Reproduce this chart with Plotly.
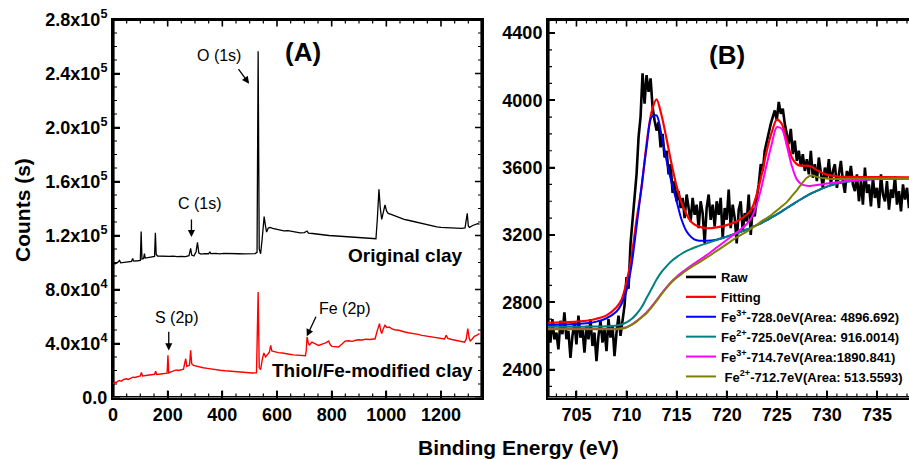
import numpy as np
import plotly.graph_objects as go

# ---------------- survey spectra (binding energy eV, counts in units of 1000) ----------------
orig_be = [0, 8, 16, 24, 28, 40, 55, 68, 72, 76, 90, 100, 103, 106, 112, 115, 118, 130, 145, 152,
           155, 158, 163, 175, 190, 205, 220, 235, 250, 265, 278, 284, 288, 296, 304, 309, 314, 322,
           335, 350, 354, 358, 375, 390, 405, 420, 440, 460, 480, 500, 520, 527, 531, 535, 540, 546,
           553, 558, 562, 568, 575, 584, 595, 610, 625, 640, 655, 670, 685, 700, 710, 715, 730, 745,
           760, 775, 790, 805, 820, 835, 850, 865, 880, 900, 915, 930, 945, 962, 967, 973, 978, 983,
           990, 995, 1001, 1007, 1020, 1035, 1050, 1065, 1080, 1095, 1110, 1125, 1140, 1155, 1170,
           1185, 1200, 1215, 1230, 1245, 1260, 1275, 1288, 1292, 1296, 1300, 1304, 1316, 1325, 1334, 1341]
orig_kcounts = [99.5, 99.0, 99.8, 101.5, 99.8, 100.2, 100.6, 100.9, 103.0, 101.0, 101.3, 101.6, 123.0,
                102.5, 103.0, 106.5, 103.3, 103.6, 103.8, 104.5, 122.0, 106.0, 104.8, 104.6, 104.9,
                104.5, 104.7, 104.3, 104.6, 104.4, 105.0, 110.4, 105.5, 104.8, 108.0, 115.0, 107.0,
                106.2, 106.6, 106.5, 108.0, 106.6, 106.8, 106.4, 106.7, 106.5, 106.3, 106.5, 106.4,
                106.3, 106.6, 107.5, 256.5, 110.0, 106.5, 118.0, 134.0, 127.0, 122.5, 125.5, 126.0,
                125.3, 124.8, 124.0, 123.4, 123.6, 122.8, 122.5, 122.0, 122.2, 123.3, 121.8, 121.5,
                121.0, 120.8, 120.5, 120.0, 119.8, 119.6, 119.2, 119.0, 119.3, 118.8, 118.7, 118.4,
                118.2, 118.0, 117.6, 132.0, 154.3, 140.0, 132.0, 138.0, 142.6, 138.0, 136.4, 135.5,
                134.2, 133.5, 132.0, 131.3, 130.6, 130.0, 128.8, 128.2, 127.4, 127.0, 126.4, 126.0,
                125.8, 125.5, 125.6, 125.2, 125.3, 125.6, 130.0, 136.4, 127.0, 126.0, 127.4, 128.0,
                128.7, 128.5]

thiol_be = [0, 6, 12, 18, 24, 30, 38, 48, 56, 65, 73, 80, 90, 100, 104, 108, 120, 134, 145, 152, 156,
            160, 175, 190, 198, 201, 204, 212, 222, 231, 240, 250, 258, 262, 266, 270, 280, 284, 288,
            294, 305, 316, 330, 345, 360, 377, 392, 410, 425, 437, 455, 470, 490, 510, 525, 531, 535,
            540, 546, 552, 558, 565, 572, 577, 581, 590, 605, 620, 631, 645, 660, 675, 690, 704, 707,
            710, 714, 718, 723, 728, 735, 745, 752, 765, 778, 789, 795, 801, 812, 825, 838, 849, 862,
            875, 888, 898, 912, 925, 940, 959, 966, 975, 979, 983, 989, 995, 1002, 1010, 1019, 1030,
            1045, 1055, 1068, 1080, 1095, 1105, 1116, 1130, 1145, 1155, 1165, 1180, 1195, 1205, 1213,
            1219, 1225, 1240, 1255, 1270, 1286, 1292, 1298, 1303, 1307, 1315, 1322, 1330, 1341]
thiol_kcounts = [10.2, 11.5, 11.0, 12.2, 12.6, 12.0, 13.2, 13.9, 13.4, 14.6, 15.1, 14.8, 15.4, 15.9,
                 18.5, 16.0, 16.3, 16.5, 16.8, 17.2, 19.5, 17.0, 17.4, 17.8, 18.0, 31.2, 18.2, 19.0,
                 19.6, 20.4, 20.0, 20.3, 21.0, 25.0, 28.7, 23.0, 24.0, 34.9, 25.0, 23.8, 23.2, 22.6,
                 22.0, 21.6, 21.0, 20.7, 20.2, 19.8, 19.5, 19.3, 18.9, 18.6, 18.4, 18.2, 18.3, 78.2,
                 22.0, 20.6, 28.0, 33.0, 30.0, 32.0, 33.5, 38.6, 34.5, 34.0, 33.2, 33.0, 32.4, 32.0,
                 31.6, 31.5, 31.2, 31.0, 35.0, 44.8, 41.0, 38.6, 40.0, 41.0, 40.2, 39.0, 38.6, 39.6,
                 40.4, 41.8, 39.0, 37.9, 37.6, 37.4, 39.6, 41.8, 42.0, 41.6, 42.4, 42.8, 42.6, 43.2,
                 43.0, 43.5, 49.0, 54.7, 50.0, 47.3, 51.0, 53.5, 51.8, 52.2, 51.0, 50.2, 49.8, 49.0,
                 48.5, 48.0, 47.6, 47.0, 46.8, 46.0, 45.6, 45.3, 44.8, 44.4, 44.0, 43.6, 43.3, 46.0,
                 43.8, 43.0, 42.2, 41.6, 41.0, 43.0, 51.0, 44.0, 41.8, 43.5, 45.3, 46.0, 47.3]

survey_tickvals = [0, 40000, 80000, 120000, 160000, 200000, 240000, 280000]
survey_ticktext = ["0.0", "4.0x10<sup>4</sup>", "8.0x10<sup>4</sup>", "1.2x10<sup>5</sup>",
                   "1.6x10<sup>5</sup>", "2.0x10<sup>5</sup>", "2.4x10<sup>5</sup>", "2.8x10<sup>5</sup>"]

# ---------------- Fe 2p high-resolution region ----------------
# raw counts sampled every 0.2 eV starting at 702.2 eV
fe_start, fe_step = 702.2, 0.2
fe_raw = [2650, 2560, 2700, 2580, 2620, 2520, 2690, 2610, 2740, 2580, 2630, 2470, 2600, 2680, 2550,
          2720, 2590, 2640, 2500, 2660, 2580, 2700, 2540, 2620, 2450, 2600, 2690, 2560, 2640, 2510,
          2700, 2590, 2660, 2480, 2620, 2720, 2600,
          2680, 2780, 2950, 2880, 3150, 3280, 3420, 3560,
          3780, 3900, 4160, 3980, 4150, 4050, 4130,
          3960, 3880, 3820, 3870, 3720, 3800, 3660, 3700,
          3560, 3620, 3450, 3520, 3400, 3460, 3360, 3420, 3300, 3440,
          3350, 3280, 3420, 3320, 3380, 3240, 3400, 3330, 3150, 3360, 3440, 3290, 3380, 3250, 3400,
          3320, 3420, 3180, 3360, 3290, 3470, 3240, 3380, 3300, 3150, 3350, 3400, 3220, 3330, 3280,
          3440, 3200, 3360, 3310, 3420,
          3500, 3620, 3580, 3700, 3760, 3820, 3860,
          3900, 3940, 3880, 3990, 3920, 3950, 3860,
          3800, 3740, 3830, 3680, 3760, 3640, 3700, 3610, 3680, 3580, 3650,
          3560, 3700, 3540, 3620, 3520, 3660, 3560, 3480, 3600, 3540, 3650, 3500, 3580, 3620, 3480,
          3560, 3640, 3520, 3450, 3580, 3530, 3610, 3500,
          3460, 3560, 3400, 3520, 3380, 3600, 3450, 3500, 3370, 3540, 3420, 3480, 3360, 3560, 3440,
          3400, 3520, 3350, 3470, 3420, 3550, 3380, 3460, 3340, 3500, 3410, 3480, 3360, 3440]

fit_ev = [702.0, 704.0, 706.0, 707.0, 708.0, 709.0, 709.5, 710.0, 710.5, 711.0, 711.5, 712.0, 712.5,
          713.0, 713.5, 714.0, 714.5, 715.0, 715.5, 716.0, 716.5, 717.0, 718.0, 719.0, 720.0, 721.0,
          722.0, 722.5, 723.0, 723.5, 724.0, 724.5, 725.0, 725.5, 726.0, 726.5, 727.0, 727.5, 728.0,
          728.5, 729.0, 730.0, 731.0, 732.0, 734.0, 736.0, 738.5]
fit_total = [2678, 2682, 2690, 2702, 2722, 2770,
             2815, 2920, 3070, 3290, 3480, 3740, 3930, 4005, 3910, 3770, 3620, 3490, 3390, 3320, 3275, 3255,
             3240, 3245, 3258, 3280, 3320,
             3355, 3440, 3560, 3700, 3810, 3885, 3860, 3760, 3660, 3620, 3610, 3612, 3605, 3585,
             3558, 3548, 3545, 3544, 3543, 3542]
fe3_728 = [2665, 2668, 2675, 2685, 2705, 2745,
           2790, 2870, 3020, 3250, 3490, 3720, 3900, 3910, 3790, 3640, 3510, 3400, 3290, 3220, 3185, 3168,
           3165, 3172, 3190, 3210, 3232,
           3245, 3258, 3272, 3288, 3305, 3322, 3340, 3360, 3378, 3397, 3415, 3432, 3448, 3462,
           3487, 3505, 3517, 3530, 3535, 3537]
fe2_725 = [2655, 2655, 2655, 2656, 2658, 2662,
           2668, 2680, 2700, 2730, 2770, 2825, 2880, 2935, 2980, 3015, 3045, 3068, 3088, 3105, 3118, 3130,
           3150, 3170, 3190, 3210, 3232,
           3245, 3258, 3272, 3288, 3305, 3322, 3340, 3360, 3378, 3397, 3415, 3432, 3448, 3462,
           3487, 3505, 3517, 3530, 3535, 3537]
fe3_714 = [2642, 2642, 2642, 2642, 2642, 2642,
           2645, 2652, 2667, 2688, 2713, 2740, 2775, 2813, 2853, 2890, 2924, 2952, 2976, 2998, 3020, 3040,
           3080, 3125, 3170, 3215, 3265,
           3305, 3380, 3490, 3620, 3740, 3840, 3830, 3730, 3610, 3530, 3500, 3492, 3492, 3496,
           3505, 3513, 3520, 3530, 3534, 3535]
fe2_712 = [2640, 2640, 2640, 2640, 2640, 2640,
           2643, 2650, 2665, 2685, 2710, 2735, 2770, 2808, 2848, 2885, 2918, 2945, 2968, 2990, 3010, 3028,
           3065, 3105, 3145, 3185, 3220,
           3240, 3260, 3282, 3300, 3320, 3345, 3370, 3395, 3430, 3465, 3505, 3540, 3555, 3545,
           3535, 3532, 3532, 3534, 3535, 3535]

component_names = ["Fe<sup>3+</sup>-728.0eV(Area: 4896.692)",
                   "Fe<sup>2+</sup>-725.0eV(Area: 916.0014)",
                   "Fe<sup>3+</sup>-714.7eV(Area:1890.841)",
                   "\u00a0Fe<sup>2+</sup>-712.7eV(Area: 513.5593)"]
component_colors = ["#0000ff", "#008080", "#ff00ff", "#808000"]

FONT = "Liberation Sans, Arial, sans-serif"
W, H = 909, 460
ML, MT, MB = 1, 1, 1          # small page margins around the plotting area

# axis ranges and plot-area geometry (page pixels)
A_XR, A_YR = (0, 1350), (0, 280000)
B_XR, B_YR = (702.16, 738.2), (2234, 4480)
A_LEFT, A_RIGHT, B_LEFT, B_RIGHT = 113, 482, 548, W
TOP, BOTTOM = 19.5, 397.5


def fx(xp):
    return (xp - ML) / (W - ML)


def fy(yp):
    return (H - MB - yp) / (H - MT - MB)


fig = go.Figure()


# ---------------- frame and inward tick marks, drawn as line traces ----------------
def add_lines(xs, ys, xa, ya, width):
    fig.add_trace(go.Scatter(x=xs, y=ys, mode="lines", line=dict(color="black", width=width),
                             showlegend=False, hoverinfo="skip", xaxis=xa, yaxis=ya))


def frame(xr, yr, px_w, px_h, xa, ya, closed):
    ux = (xr[1] - xr[0]) / px_w
    uy = (yr[1] - yr[0]) / px_h
    x0, x1 = xr[0] + 0.6 * ux, xr[1] - 0.6 * ux
    y0, y1 = yr[0] + 0.6 * uy, yr[1] - 0.6 * uy
    if closed:
        add_lines([x0, x1, x1, x0, x0], [y0, y0, y1, y1, y0], xa, ya, 2)
    else:
        add_lines([xr[1], x0, x0, xr[1]], [y0, y0, y1, y1], xa, ya, 2)


def tick_marks(xr, yr, px_w, px_h, xa, ya, x_major, x_minor, y_major, y_minor, right_side):
    ux = (xr[1] - xr[0]) / px_w      # data units per pixel, horizontal
    uy = (yr[1] - yr[0]) / px_h      # data units per pixel, vertical
    for vals, length, width in ((x_major, 7, 1.6), (x_minor, 4, 1.2)):
        xs, ys = [], []
        for v in vals:
            xs += [v, v, None, v, v, None]
            ys += [yr[0], yr[0] + length * uy, None, yr[1], yr[1] - length * uy, None]
        add_lines(xs, ys, xa, ya, width)
    for vals, length, width in ((y_major, 7, 1.6), (y_minor, 4, 1.2)):
        xs, ys = [], []
        for v in vals:
            xs += [xr[0], xr[0] + length * ux, None]
            ys += [v, v, None]
            if right_side:
                xs += [xr[1], xr[1] - length * ux, None]
                ys += [v, v, None]
        add_lines(xs, ys, xa, ya, width)


# panel A: closed box with ticks on all four sides
frame(A_XR, A_YR, A_RIGHT - A_LEFT, BOTTOM - TOP, "x", "y", True)
tick_marks(A_XR, A_YR, A_RIGHT - A_LEFT, BOTTOM - TOP, "x", "y",
           [v for v in range(0, 1351, 50) if v % 200 == 0],
           [v for v in range(0, 1351, 50) if v % 200 != 0],
           [v for v in range(0, 280001, 10000) if v % 40000 == 0],
           [v for v in range(0, 280001, 10000) if v % 40000 != 0], True)

# panel B: box runs off the right page edge
frame(B_XR, B_YR, B_RIGHT - B_LEFT, BOTTOM - TOP, "x2", "y2", False)
tick_marks(B_XR, B_YR, B_RIGHT - B_LEFT, BOTTOM - TOP, "x2", "y2",
           [v for v in range(703, 739) if v % 5 == 0],
           [v for v in range(703, 739) if v % 5 != 0],
           [v for v in range(2300, 4481, 100) if v % 400 == 0],
           [v for v in range(2300, 4481, 100) if v % 400 != 0], False)

# ---------------- spectra ----------------
# survey panel (A)
fig.add_trace(go.Scatter(x=orig_be, y=[v * 1000 for v in orig_kcounts], mode="lines",
                         line=dict(color="black", width=1.3), showlegend=False, hoverinfo="skip",
                         xaxis="x", yaxis="y"))
fig.add_trace(go.Scatter(x=thiol_be, y=[v * 1000 for v in thiol_kcounts], mode="lines",
                         line=dict(color="#ff0000", width=1.4), showlegend=False, hoverinfo="skip",
                         xaxis="x", yaxis="y"))

# Fe 2p panel (B)
fe_ev = [round(fe_start + fe_step * i, 1) for i in range(len(fe_raw))]
fig.add_trace(go.Scatter(x=fe_ev, y=fe_raw, mode="lines", name="Raw",
                         line=dict(color="black", width=2.6), xaxis="x2", yaxis="y2"))
fig.add_trace(go.Scatter(x=fit_ev, y=fit_total, mode="lines", name="Fitting",
                         line=dict(color="#ff0000", width=2.2, shape="spline", smoothing=0.8),
                         xaxis="x2", yaxis="y2"))
for name, vals, col in zip(component_names, [fe3_728, fe2_725, fe3_714, fe2_712], component_colors):
    fig.add_trace(go.Scatter(x=fit_ev, y=vals, mode="lines", name=name,
                             line=dict(color=col, width=2.0, shape="spline", smoothing=0.8),
                             xaxis="x2", yaxis="y2"))

y_dom = [fy(BOTTOM), fy(TOP)]
tickfont = dict(family=FONT, size=18, color="black", weight="bold")
common = dict(showgrid=False, zeroline=False, showline=True, linecolor="black", linewidth=2,
              ticks="inside", ticklen=7, tickwidth=1.6, tickcolor="black",
              tickfont=tickfont, automargin=False)

fig.update_layout(
    template="none",
    width=W, height=H, margin=dict(l=ML, r=0, t=MT, b=MB, autoexpand=False),
    paper_bgcolor="white", plot_bgcolor="white",
    xaxis=dict(domain=[fx(A_LEFT), fx(A_RIGHT)], range=list(A_XR), tick0=0, dtick=200,
               mirror=True, anchor="y", **common),
    yaxis=dict(domain=y_dom, range=list(A_YR), tickmode="array", tickvals=survey_tickvals,
               ticktext=survey_ticktext, mirror=True, anchor="x", **common),
    xaxis2=dict(domain=[fx(B_LEFT), 1.0], range=list(B_XR), tick0=705, dtick=5,
                mirror=True, anchor="y2", **common),
    yaxis2=dict(domain=y_dom, range=list(B_YR), tick0=2400, dtick=400, anchor="x2", **common),
    legend=dict(x=fx(681), y=fy(262), xanchor="left", yanchor="top",
                bgcolor="rgba(0,0,0,0)", borderwidth=0, itemwidth=30,
                font=dict(family=FONT, size=13, color="black", weight="bold"),
                tracegroupgap=0),
    showlegend=True,
)


def text_ann(xp, yp, text, size, bold=True, angle=0):
    return dict(x=fx(xp), y=fy(yp), xref="paper", yref="paper",
                text=f"<b>{text}</b>" if bold else text, showarrow=False, textangle=angle,
                font=dict(family=FONT, size=size, color="black"), xanchor="center", yanchor="middle")


def arrow_ann(xh, yh, xt, yt):
    # arrow head at (xh, yh), tail at (xt, yt), both in survey data coordinates
    return dict(x=xh, y=yh, ax=xt, ay=yt, xref="x", yref="y", axref="x", ayref="y", text="",
                showarrow=True, arrowhead=2, arrowsize=1.1, arrowwidth=1.3, arrowcolor="black")


annotations = [
    text_ann(303, 52, "(A)", 26),
    text_ann(727, 55, "(B)", 26),
    text_ann(22, 210, "Counts (s)", 21, angle=-90),
    text_ann(518, 447, "Binding Energy (eV)", 21),
    text_ann(219, 55, "O (1s)", 16, bold=False),
    text_ann(200, 203, "C (1s)", 16, bold=False),
    text_ann(405, 255, "Original clay", 19),
    text_ann(177, 317, "S (2p)", 16, bold=False),
    text_ann(345, 308, "Fe (2p)", 16, bold=False),
    text_ann(372, 370, "Thiol/Fe-modified clay", 19),
    arrow_ann(498, 232500, 455, 244300),
    arrow_ann(287, 118800, 287, 133000),
    arrow_ann(204, 34900, 204, 49800),
    arrow_ann(709, 45300, 745, 60900),
]
fig.update_layout(annotations=annotations)

fig.write_html("out.html")
